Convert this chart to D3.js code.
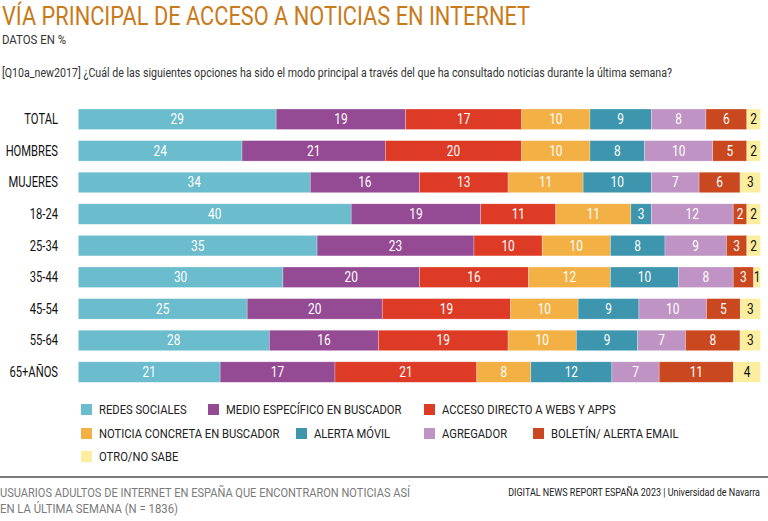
<!DOCTYPE html>
<html><head><meta charset="utf-8">
<script src="https://cdn.jsdelivr.net/npm/d3@7"></script>
<style>body{margin:0;background:#fff}svg{display:block;font-family:Roboto,"Open Sans",sans-serif}</style>
</head><body><svg id="c" width="768" height="521"></svg>
<script>
const categories = ["TOTAL","HOMBRES","MUJERES","18-24","25-34","35-44","45-54","55-64","65+AÑOS"];
const seriesNames = ["REDES SOCIALES","MEDIO ESPECÍFICO EN BUSCADOR","ACCESO DIRECTO A WEBS Y APPS","NOTICIA CONCRETA EN BUSCADOR","ALERTA MÓVIL","AGREGADOR","BOLETÍN/ ALERTA EMAIL","OTRO/NO SABE"];
const redesSociales   = [29,24,34,40,35,30,25,28,21];
const medioBuscador   = [19,21,16,19,23,20,20,16,17];
const accesoDirecto   = [17,20,13,11,10,16,19,19,21];
const noticiaBuscador = [10,10,11,11,10,12,10,10,8];
const alertaMovil     = [9,8,10,3,8,10,9,9,12];
const agregador       = [8,10,7,12,9,8,10,7,7];
const boletinEmail    = [6,5,6,2,3,3,5,8,11];
const otroNoSabe      = [2,2,3,2,2,1,3,3,4];
const series = [redesSociales,medioBuscador,accesoDirecto,noticiaBuscador,alertaMovil,agregador,boletinEmail,otroNoSabe];
const colors = ["#6bbccd","#954a94","#de3b26","#f3b044","#3d96ad","#bf93c4","#c9481f","#fdee9f"];
const labelColors = ["#fff","#fff","#fff","#fff","#fff","#fff","#fff","#111"];

const svg = d3.select("#c");
function condense(sel, f){ sel.each(function(){ const w=this.getComputedTextLength(); d3.select(this).attr("textLength", w*f).attr("lengthAdjust","spacingAndGlyphs"); }); return sel; }
function fit(sel, w){ return sel.attr("textLength", w).attr("lengthAdjust","spacingAndGlyphs"); }

// Titles
fit(svg.append("text").attr("x",2).attr("y",25).attr("font-size",25).attr("fill","#c97a1a").text("VÍA PRINCIPAL DE ACCESO A NOTICIAS EN INTERNET"),528);
fit(svg.append("text").attr("x",2).attr("y",44).attr("font-size",12).attr("fill","#333").text("DATOS EN %"),64);
fit(svg.append("text").attr("x",2).attr("y",77).attr("font-size",12).attr("fill","#333").text("[Q10a_new2017] ¿Cuál de las siguientes opciones ha sido el modo principal a través del que ha consultado noticias durante la última semana?"),670);

// Scales
const x = d3.scaleLinear().domain([0,100]).range([78.3,760.5]);
const step = 31.6, bh = 20.5;
const y = d3.scaleBand().domain(categories).range([109, 109 + categories.length*step - (step-bh)]).paddingInner(1-bh/step).paddingOuter(0);

// Stack
const rows = categories.map((c,i)=>{ const o={cat:c}; series.forEach((s,k)=>o["s"+k]=s[i]); return o; });
const keys = series.map((s,k)=>"s"+k);
const stacked = d3.stack().keys(keys).offset(d3.stackOffsetExpand)(rows);

const g = svg.append("g");
stacked.forEach((layer,k)=>{
  const lg = g.append("g");
  lg.selectAll("rect").data(layer).join("rect")
    .attr("x",d=>x(d[0]*100)).attr("y",d=>y(d.data.cat))
    .attr("width",d=>x(d[1]*100)-x(d[0]*100)).attr("height",y.bandwidth())
    .attr("fill",colors[k]).attr("stroke","rgba(255,255,255,0.45)").attr("stroke-width",0.6);
  condense(lg.selectAll("text").data(layer).join("text")
    .attr("x",d=>(x(d[0]*100)+x(d[1]*100))/2).attr("y",d=>y(d.data.cat)+y.bandwidth()/2+5)
    .attr("text-anchor","middle").attr("font-size",14).attr("fill",labelColors[k])
    .text(d=>series[k][categories.indexOf(d.data.cat)]),0.85);
});

// Category axis
const ax = svg.append("g").attr("transform","translate(58,0)").call(d3.axisLeft(y).tickSize(0).tickPadding(0));
ax.select(".domain").remove();
ax.selectAll("text").attr("font-size",14).attr("fill","#111").attr("font-family","Roboto,sans-serif").attr("dy",null).attr("dominant-baseline","central");
condense(ax.selectAll("text"),0.8);

// Legend
const legPos = [[81,409],[208,409],[424,409],[81,433],[296,433],[424,433],[533,433],[81,456]];
const leg = svg.append("g");
seriesNames.forEach((n,k)=>{
  const [lx,ly]=legPos[k];
  leg.append("rect").attr("x",lx).attr("y",ly-5).attr("width",11).attr("height",11).attr("fill",colors[k]);
  condense(leg.append("text").attr("x",lx+18).attr("y",ly+5).attr("font-size",13.5).attr("fill","#222").text(n),0.83);
});

// Footer
svg.append("line").attr("x1",0).attr("x2",768).attr("y1",477).attr("y2",477).attr("stroke","#7a7a7a").attr("stroke-width",2);
fit(svg.append("text").attr("x",0).attr("y",497).attr("font-size",13).attr("fill","#7a7a7a").text("USUARIOS ADULTOS DE INTERNET EN ESPAÑA QUE ENCONTRARON NOTICIAS ASÍ"),410);
fit(svg.append("text").attr("x",0).attr("y",513).attr("font-size",13).attr("fill","#7a7a7a").text("EN LA ÚLTIMA SEMANA (N = 1836)"),178);
const src = svg.append("text").attr("x",0).attr("y",0).attr("text-anchor","end").attr("font-size",10.5).attr("fill","#222").text("DIGITAL NEWS REPORT ESPAÑA 2023 | Universidad de Navarra");
const sw = src.node().getComputedTextLength();
src.attr("transform",`translate(760,496) scale(${252/sw},1)`);
</script></body></html>
